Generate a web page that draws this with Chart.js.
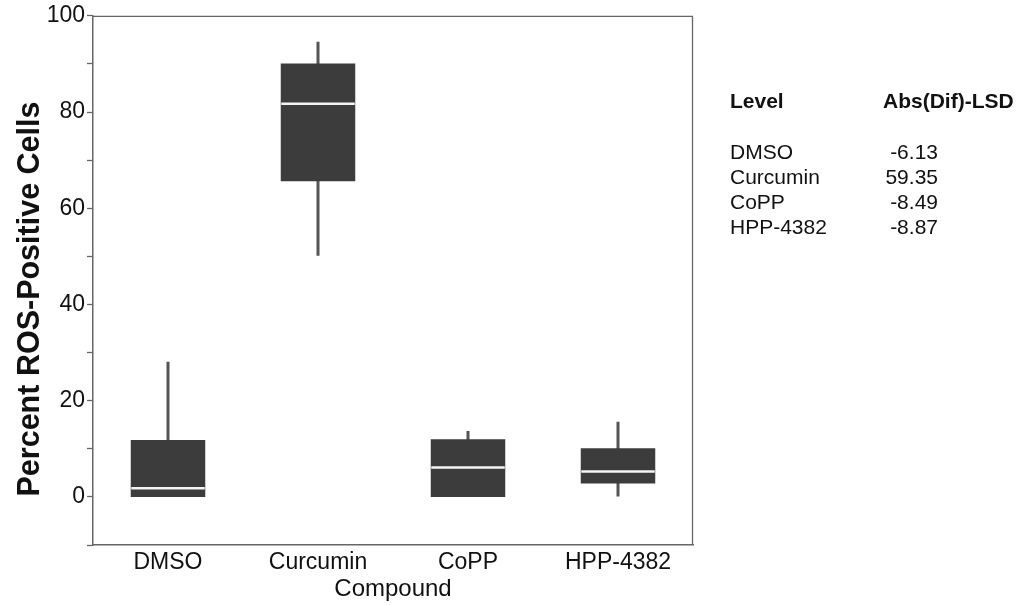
<!DOCTYPE html>
<html lang="en">
<head>
  <meta charset="UTF-8" />
  <title>Percent ROS-Positive Cells by Compound</title>
  <script src="https://cdn.jsdelivr.net/npm/chart.js"></script>
  <style>
    body { margin:0; background:#fff; font-family:'Liberation Sans', Arial, sans-serif; }
    .wrap { position:relative; width:1023px; height:605px; }
    .lsd { position:absolute; color:#111; font-size:21px; line-height:25px; white-space:nowrap; }
    .lsd b { font-weight:bold; }
    .num { text-align:right; }
  </style>
</head>
<body>
<div class="wrap">
  <canvas id="box" width="1023" height="605"></canvas>
  <div id="lsdTable"></div>
</div>

<script>
  // box plot data
  const compounds = ['DMSO', 'Curcumin', 'CoPP', 'HPP-4382'];
  const mins    = [0,    50.1, 0,    0];
  const q1s     = [0,    65.7, 0,    2.9];
  const medians = [1.8,  81.7, 6.1,  5.3];
  const q3s     = [11.7, 90.0, 11.9, 10.0];
  const maxs    = [28.1, 94.6, 13.7, 15.6];
  const yTicks  = [0, 20, 40, 60, 80, 100];

  // Abs(Dif)-LSD table
  const lsdLevels = ['DMSO', 'Curcumin', 'CoPP', 'HPP-4382'];
  const lsdValues = ['-6.13', '59.35', '-8.49', '-8.87'];

  const tbl = document.getElementById('lsdTable');
  let html = '<div class="lsd" style="left:730px;top:88px"><b>Level</b></div>' +
             '<div class="lsd" style="left:883px;top:88px"><b>Abs(Dif)-LSD</b></div>';
  lsdLevels.forEach((l, i) => {
    const top = 139 + i * 25;
    html += `<div class="lsd" style="left:730px;top:${top}px">${l}</div>`;
    html += `<div class="lsd num" style="left:858px;width:80px;top:${top}px">${lsdValues[i]}</div>`;
  });
  tbl.innerHTML = html;

  const font = 'Liberation Sans';

  // median lines, frame and y title
  const boxExtras = {
    id: 'boxExtras',
    afterDatasetsDraw(chart) {
      const ctx = chart.ctx, y = chart.scales.y;
      const meta = chart.getDatasetMeta(0);
      ctx.save();
      ctx.strokeStyle = '#f4f4f4';
      ctx.lineWidth = 2.5;
      meta.data.forEach((bar, i) => {
        const py = y.getPixelForValue(medians[i]);
        ctx.beginPath();
        ctx.moveTo(bar.x - bar.width / 2, py);
        ctx.lineTo(bar.x + bar.width / 2, py);
        ctx.stroke();
      });
      ctx.restore();
    },
    afterDraw(chart) {
      const ctx = chart.ctx, a = chart.chartArea;
      ctx.save();
      ctx.strokeStyle = '#666';
      ctx.lineWidth = 1.3;
      ctx.beginPath();
      ctx.moveTo(a.left, a.top + 0.5);
      ctx.lineTo(a.right - 0.5, a.top + 0.5);
      ctx.lineTo(a.right - 0.5, a.bottom);
      ctx.stroke();
      ctx.translate(31, 299);
      ctx.rotate(-Math.PI / 2);
      ctx.fillStyle = '#111';
      ctx.font = `bold 30.5px "${font}"`;
      ctx.textAlign = 'center';
      ctx.textBaseline = 'middle';
      ctx.fillText('Percent ROS-Positive Cells', 0, 0);
      ctx.restore();
    }
  };

  new Chart(document.getElementById('box'), {
    type: 'bar',
    data: {
      labels: compounds,
      datasets: [
        {
          label: 'IQR',
          data: compounds.map((c, i) => [q1s[i], q3s[i]]),
          backgroundColor: '#3c3c3c',
          barPercentage: 0.49,
          categoryPercentage: 1,
          inflateAmount: 0.5,
          grouped: false,
          order: 0
        },
        {
          label: 'Range',
          data: compounds.map((c, i) => [mins[i], maxs[i]]),
          backgroundColor: '#555',
          barThickness: 3,
          inflateAmount: 0,
          grouped: false,
          order: 1
        }
      ]
    },
    options: {
      responsive: false,
      animation: false,
      layout: { padding: { left: 0, top: 15, right: 330, bottom: 0 } },
      plugins: { legend: { display: false }, tooltip: { enabled: false } },
      scales: {
        x: {
          grid: { display: false, drawTicks: false },
          border: { color: '#666', width: 1.5 },
          ticks: { color: '#111', padding: 4, font: { family: font, size: 23 } },
          title: { display: true, text: 'Compound', color: '#111', padding: { top: 0, bottom: 1 },
                   font: { family: font, size: 24, lineHeight: 1.2 } },
          afterFit(s) { s.height = 60; }
        },
        y: {
          min: -10, max: 100,
          grid: { drawOnChartArea: false, tickLength: 6, color: '#666', tickWidth: 1.3 },
          border: { color: '#666', width: 1.5 },
          ticks: {
            stepSize: 10, padding: 2, color: '#111', font: { family: font, size: 23 },
            callback: v => yTicks.includes(v) ? v : ''
          },
          afterFit(s) { s.width = 93; }
        }
      }
    },
    plugins: [boxExtras]
  });
</script>
</body>
</html>
